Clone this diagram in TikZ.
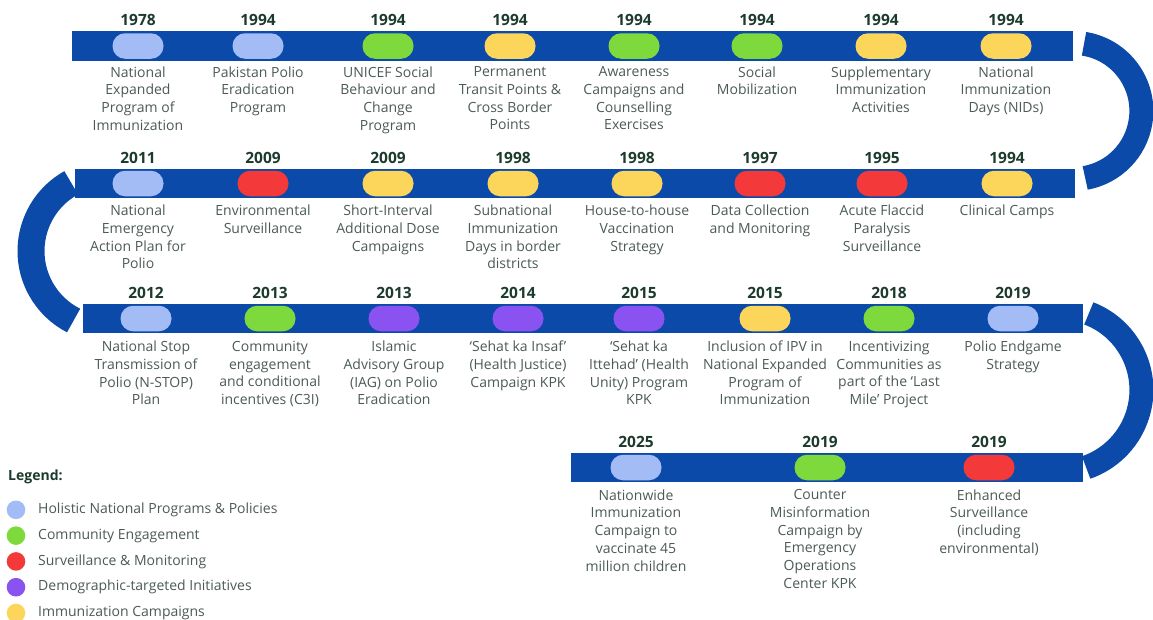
\documentclass[tikz,border=0pt]{standalone}
\usepackage{fontspec}
\setmainfont{Open Sans}
\usepackage{tikz}
\usetikzlibrary{positioning}

\definecolor{barblue}{HTML}{0B4AA9}
\definecolor{holistic}{HTML}{A3BCF6}
\definecolor{community}{HTML}{7DD93C}
\definecolor{surveil}{HTML}{F3393A}
\definecolor{demog}{HTML}{8A52F0}
\definecolor{immun}{HTML}{FCD65B}
\definecolor{yeartext}{HTML}{1D3B2D}
\definecolor{labeltext}{HTML}{4B5B53}

\begin{document}
\begin{tikzpicture}[x=1pt,y=-1pt,
  bar/.style={fill=barblue, inner sep=0, minimum height=29.5pt, anchor=west},
  pill/.style={fill=#1, rounded corners=12.5pt, minimum width=51pt, minimum height=25.5pt, inner sep=0},
  year/.style={font=\fontsize{15.5}{15.5}\selectfont\bfseries, text=yeartext, inner sep=0},
  event/.style={font=\fontsize{14}{17.7}\selectfont, text=labeltext, align=center, inner sep=0},
  turn/.style={draw=barblue, line width=24pt},
  dot/.style={circle, fill=#1, minimum size=18.6pt, inner sep=0},
  key/.style={font=\fontsize{14}{15}\selectfont, text=labeltext, inner sep=0, anchor=west}]
\useasboundingbox (0,0) rectangle (1153,619);

% the four bars
\node[bar, minimum width=1001pt] (bar1) at (72,46) {};
\node[bar, minimum width=1000pt] (bar2) at (75,183.5) {};
\node[bar, minimum width=1000pt] (bar3) at (83,318.5) {};
\node[bar, minimum width=512pt] (bar4) at (571,467.5) {};

% bends between the bars
\draw[turn] ([shift={(10.6,-2.2)}]bar1.east) arc[start angle=-81, end angle=80, radius=68];
\draw[turn, line width=27pt] ([shift={(-3.8,-0.7)}]bar2.west) arc[start angle=-119, end angle=-243, radius=78];
\draw[turn] ([shift={(5.4,-5.1)}]bar3.east) arc[start angle=-69, end angle=71, radius=82];

% row 1
\foreach \x/\c/\yr/\txt [count=\i] in {
  138/holistic/1978/{National\\Expanded\\Program of\\Immunization},
  258/holistic/1994/{Pakistan Polio\\Eradication\\Program},
  388/community/1994/{UNICEF Social\\Behaviour and\\Change\\Program},
  510/immun/1994/{Permanent\\Transit Points \&\\Cross Border\\Points},
  634/community/1994/{Awareness\\Campaigns and\\Counselling\\Exercises},
  757/community/1994/{Social\\Mobilization},
  881/immun/1994/{Supplementary\\Immunization\\Activities},
  1006/immun/1994/{National\\Immunization\\Days (NIDs)}}
{
  \node[pill=\c] (a\i) at (\x,46) {};
  \node[year, above=7pt of a\i] (ya\i) {\yr};
  \node[event, below=7.5pt of a\i] (ta\i) {\txt};
}

% row 2
\foreach \x/\c/\yr/\txt [count=\i] in {
  138/holistic/2011/{National\\Emergency\\Action Plan for\\Polio},
  263/surveil/2009/{Environmental\\Surveillance},
  388/immun/2009/{Short-Interval\\Additional Dose\\Campaigns},
  513/immun/1998/{Subnational\\Immunization\\Days in border\\districts},
  637/immun/1998/{House-to-house\\Vaccination\\Strategy},
  760/surveil/1997/{Data Collection\\and Monitoring},
  882/surveil/1995/{Acute Flaccid\\Paralysis\\Surveillance},
  1007/immun/1994/{Clinical Camps}}
{
  \node[pill=\c] (b\i) at (\x,183.5) {};
  \node[year, above=7pt of b\i] (yb\i) {\yr};
  \node[event, below=8.5pt of b\i] (tb\i) {\txt};
}

% row 3
\foreach \x/\c/\yr/\txt [count=\i] in {
  146/holistic/2012/{National Stop\\Transmission of\\Polio (N-STOP)\\Plan},
  270/community/2013/{Community\\engagement\\and conditional\\incentives (C3I)},
  394/demog/2013/{Islamic\\Advisory Group\\(IAG) on Polio\\Eradication},
  518/demog/2014/{‘Sehat ka Insaf’\\(Health Justice)\\Campaign KPK},
  639/demog/2015/{‘Sehat ka\\Ittehad’ (Health\\Unity) Program\\KPK},
  765/immun/2015/{Inclusion of IPV in\\National Expanded\\Program of\\Immunization},
  889/community/2018/{Incentivizing\\Communities as\\part of the ‘Last\\Mile’ Project},
  1013/holistic/2019/{Polio Endgame\\Strategy}}
{
  \node[pill=\c] (c\i) at (\x,318.5) {};
  \node[year, above=7pt of c\i] (yc\i) {\yr};
  \node[event, below=9.5pt of c\i] (tc\i) {\txt};
}

% row 4
\foreach \x/\c/\yr/\txt [count=\i] in {
  636/holistic/2025/{Nationwide\\Immunization\\Campaign to\\vaccinate 45\\million children},
  820/community/2019/{Counter\\Misinformation\\Campaign by\\Emergency\\Operations\\Center KPK},
  989/surveil/2019/{Enhanced\\Surveillance\\(including\\environmental)}}
{
  \node[pill=\c] (d\i) at (\x,467.5) {};
  \node[year, above=7pt of d\i] (yd\i) {\yr};
  \node[event, below=9pt of d\i] (td\i) {\txt};
}

% legend
\node[font=\fontsize{14}{15}\selectfont\bfseries, text=yeartext, inner sep=0, anchor=west] (legend) at (8,477) {Legend:};
\foreach \c/\txt [count=\i] in {
  holistic/Holistic National Programs \& Policies,
  community/Community Engagement,
  surveil/Surveillance \& Monitoring,
  demog/Demographic-targeted Initiatives,
  immun/Immunization Campaigns}
{
  \node[dot=\c] (l\i) at (16,{484+25.8*\i}) {};
  \node[key, right=12.5pt of l\i] (k\i) {\txt};
}
\end{tikzpicture}
\end{document}
